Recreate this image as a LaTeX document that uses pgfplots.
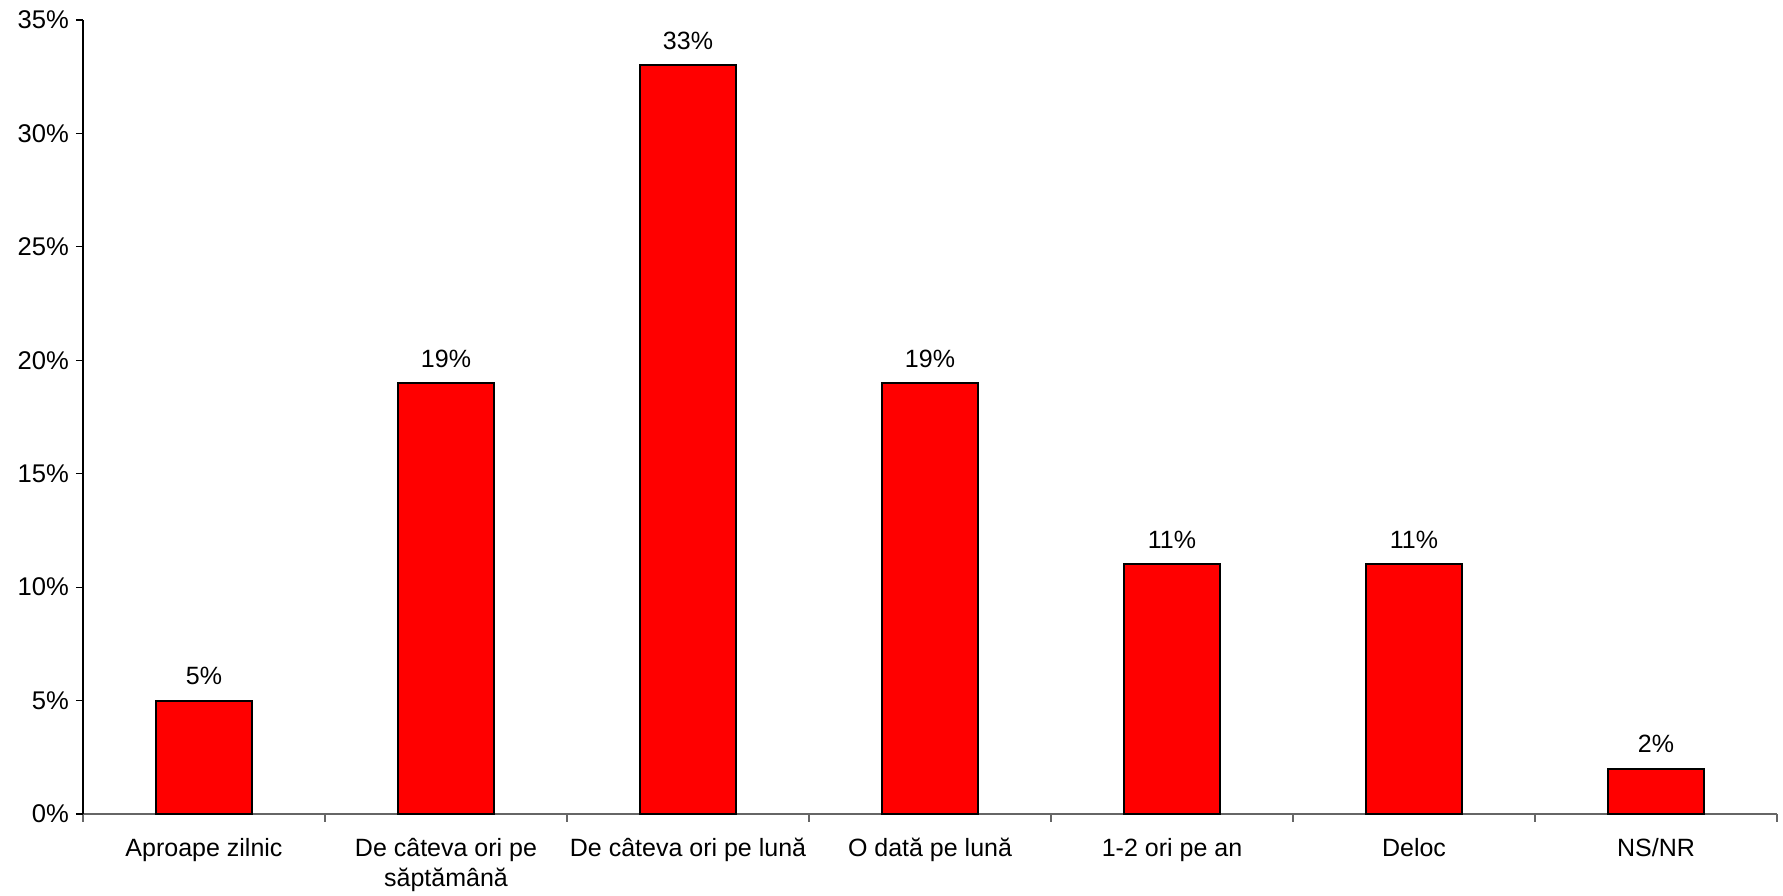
\documentclass[border=0pt]{standalone}
\usepackage{fontspec}
\setmainfont{Liberation Sans}
\usepackage{pgfplots}
\pgfplotsset{compat=1.18}
\definecolor{barred}{RGB}{255,0,0}
\begin{document}
\begin{tikzpicture}
\begin{axis}[
  scale only axis,
  width=847pt, height=397pt,
  xmin=-0.5, xmax=6.5, ymin=0, ymax=35,
  axis lines=left,
  axis line style={-, line width=0.6pt},
  x axis line style={draw=black!60},
  ybar, bar width=0.4,
  xtick={0,1,2,3,4,5,6},
  xticklabels={Aproape zilnic, De câteva ori pe\\săptămână, De câteva ori pe lună, O dată pe lună, 1-2 ori pe an, Deloc, NS/NR},
  xticklabel style={align=center, font=\fontsize{12.5}{15}\selectfont, yshift=-5pt},
  major x tick style={draw=none},
  minor xtick={-0.5,0.5,1.5,2.5,3.5,4.5,5.5,6.5},
  minor x tick style={draw=black!60, line width=0.6pt},
  minor tick length=4pt,
  ytick={0,5,10,15,20,25,30,35},
  yticklabel={\pgfmathprintnumber{\tick}\%},
  yticklabel style={font=\fontsize{12.8}{15}\selectfont},
  y tick style={draw=black, line width=0.6pt},
  major tick length=3.5pt,
  tick align=outside,
  /pgf/number format/assume math mode=true,
  nodes near coords={\pgfmathprintnumber{\pgfplotspointmeta}\%},
  every node near coord/.append style={font=\fontsize{12.5}{15}\selectfont, yshift=4pt},
  clip=false,
]
\addplot[fill=barred, draw=black, line width=1pt] coordinates {(0,5) (1,19) (2,33) (3,19) (4,11) (5,11) (6,2)};
\coordinate (sw) at (rel axis cs:0,0);
\coordinate (ne) at (rel axis cs:1,1);
\end{axis}
\pgfresetboundingbox
\path[use as bounding box] ([xshift=-41.5pt,yshift=-41pt]sw) rectangle ([xshift=3pt,yshift=10pt]ne);
\end{tikzpicture}
\end{document}
